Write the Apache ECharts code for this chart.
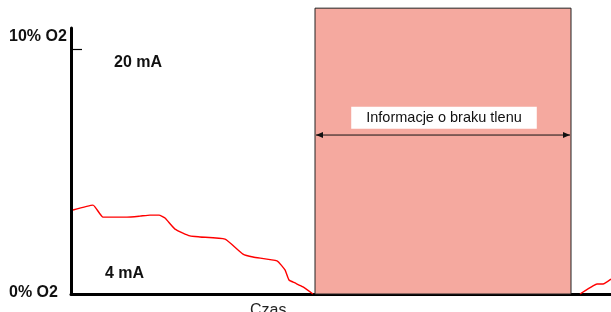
<!DOCTYPE html>
<html><head><meta charset="utf-8">
<script src="https://cdn.jsdelivr.net/npm/echarts@6/dist/echarts.min.js"></script>
<style>html,body{margin:0;padding:0;background:#fff}#c{width:611px;height:312px}</style>
</head><body><div id="c"></div>
<script>
// time (arbitrary units) and O2 concentration (%); null = signal lost
const timeValues = [2,22,32,56,69,79,88,94,104,119,129,154,172,182,206,214,218,224,232,242,243,509,522,526,532,540];
const o2Values   = [3.43,3.63,3.14,3.14,3.18,3.22,3.22,3.10,2.65,2.37,2.33,2.24,1.63,1.51,1.35,0.98,0.57,0.45,0.29,0.0,null,0.0,0.33,0.41,0.41,0.61];
// no-oxygen information zone: [start, end, top, arrowLevel, labelLevel]
const zone = [244, 500, 11.67, 6.49, 7.2];
const zoneLabel = 'Informacje o braku tlenu';
const yTickLabels = ['0% O2', '10% O2'];
const currentLabels = ['4 mA', '20 mA'];
const xName = 'Czas';

const chart = echarts.init(document.getElementById('c'), null, {renderer: 'canvas'});
const font = '"Liberation Sans", Arial, sans-serif';
chart.setOption({
  animation: false,
  grid: {left: 71, right: 0, top: 28, bottom: 18},
  xAxis: {type: 'value', min: 0, max: 540, axisLine: {lineStyle: {color: '#000', width: 3}},
    axisTick: {show: false}, axisLabel: {show: false}, splitLine: {show: false}},
  yAxis: {type: 'value', min: 0, max: 10.86, interval: 10,
    axisLine: {show: true, lineStyle: {color: '#000', width: 3}},
    axisTick: {show: true, inside: true, length: 11, customValues: [10], lineStyle: {color: '#000', width: 1.2}},
    axisLabel: {show: false}, splitLine: {show: false}},
  series: [
    {type: 'line', data: timeValues.map((t, i) => [t, o2Values[i]]), connectNulls: false, smooth: 0.15,
      showSymbol: false, lineStyle: {color: '#ff0000', width: 1.4}, z: 3},
    {type: 'custom', data: [zone], encode: {x: [0, 1], y: [2, 3]}, z: 2,
      renderItem: function (params, api) {
        const p0 = api.coord([api.value(0), api.value(2)]);
        const p1 = api.coord([api.value(1), 0]);
        const ya = api.coord([api.value(0), api.value(3)])[1];
        const yl = api.coord([api.value(0), api.value(4)])[1];
        const x0 = p0[0], x1 = p1[0];
        return {type: 'group', children: [
          {type: 'rect', shape: {x: x0, y: p0[1], width: x1 - x0, height: p1[1] - p0[1]},
            style: {fill: '#f5a99f', stroke: '#222', lineWidth: 1}},
          {type: 'line', shape: {x1: x0 + 1, y1: ya, x2: x1 - 1, y2: ya}, style: {stroke: '#111', lineWidth: 1}},
          {type: 'polygon', shape: {points: [[x0 + 1, ya], [x0 + 8, ya - 3], [x0 + 8, ya + 3]]}, style: {fill: '#111'}},
          {type: 'polygon', shape: {points: [[x1 - 1, ya], [x1 - 8, ya - 3], [x1 - 8, ya + 3]]}, style: {fill: '#111'}},
          {type: 'text', x: (x0 + x1) / 2 + 1, y: yl, style: {text: zoneLabel, fill: '#111',
            font: '14.5px ' + font, align: 'center', verticalAlign: 'middle',
            backgroundColor: '#fff', padding: [4, 15, 3, 15]}}
        ]};
      }}
  ],
  graphic: [
    {type: 'text', left: 9, top: 29, style: {text: yTickLabels[1], font: 'bold 16px ' + font, fill: '#111'}},
    {type: 'text', left: 9, top: 285, style: {text: yTickLabels[0], font: 'bold 16px ' + font, fill: '#111'}},
    {type: 'text', left: 114, top: 55, style: {text: currentLabels[1], font: 'bold 16px ' + font, fill: '#111'}},
    {type: 'text', left: 105, top: 266, style: {text: currentLabels[0], font: 'bold 16px ' + font, fill: '#111'}},
    {type: 'text', left: 250, top: 303, style: {text: xName, font: '16px ' + font, fill: '#222'}}
  ]
});
</script></body></html>
